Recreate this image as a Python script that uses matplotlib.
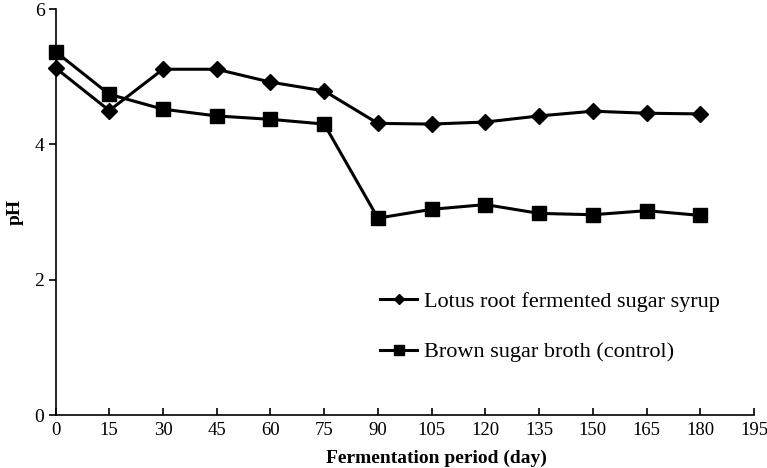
import matplotlib
matplotlib.use("Agg")
import matplotlib.pyplot as plt
from matplotlib.lines import Line2D

plt.rcParams['font.family'] = ['Liberation Serif', 'DejaVu Serif']

dias = [0, 15, 30, 45, 60, 75, 90, 105, 120, 135, 150, 165, 180]
ph_loto = [5.13, 4.50, 5.11, 5.11, 4.92, 4.79, 4.31, 4.30, 4.33, 4.42, 4.49, 4.46, 4.45]
ph_control = [5.37, 4.74, 4.52, 4.42, 4.37, 4.30, 2.91, 3.04, 3.11, 2.98, 2.96, 3.02, 2.95]
etiquetas = ['Lotus root fermented sugar syrup', 'Brown sugar broth (control)']

fig = plt.figure(figsize=(7.67, 4.68), dpi=100)
ax = fig.add_axes([0.0724, 0.1132, 0.9107, 0.8675])

ax.plot(dias, ph_loto, color='black', lw=2.2, marker='D', ms=8.2, clip_on=False)
ax.plot(dias, ph_control, color='black', lw=2.2, marker='s', ms=10, clip_on=False)

ax.set_xlim(0, 195)
ax.set_ylim(0, 6)
ax.set_xticks(range(0, 196, 15))
ax.set_yticks([0, 2, 4, 6])

for lado in ['top', 'right']:
    ax.spines[lado].set_visible(False)
for lado in ['left', 'bottom']:
    ax.spines[lado].set_linewidth(1.2)

ax.tick_params(axis='x', direction='in', length=5, width=1.2, labelsize=13.5, pad=5)
ax.tick_params(axis='y', direction='out', length=5, width=1.2, labelsize=14, pad=3)

ax.set_xlabel('Fermentation period (day)', fontsize=14, fontweight='bold')
ax.xaxis.set_label_coords(0.545, -0.085)
ax.set_ylabel('pH', fontsize=14, fontweight='bold', labelpad=8)

manijas = [
    Line2D([], [], color='black', lw=2.2, marker='D', ms=5.5),
    Line2D([], [], color='black', lw=2.2, marker='s', ms=7),
]
ax.legend(manijas, etiquetas, loc='upper left', bbox_to_anchor=(0.464, 0.305),
          frameon=False, fontsize=16, handlelength=1.7, handletextpad=0.3,
          labelspacing=1.35, borderpad=0, borderaxespad=0)

fig.savefig('out.png', dpi=100)
